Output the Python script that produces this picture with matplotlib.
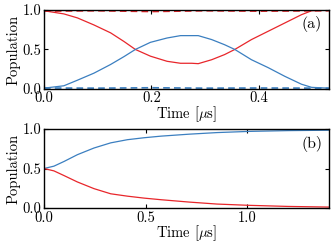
import matplotlib
matplotlib.use('Agg')
import matplotlib.pyplot as plt
import numpy as np

plt.rcParams['font.family'] = 'serif'
plt.rcParams['font.serif'] = ['cmr10', 'DejaVu Serif']
plt.rcParams['mathtext.fontset'] = 'cm'
plt.rcParams['axes.formatter.use_mathtext'] = True
plt.rcParams['font.size'] = 10.5

RED = '#e8262b'
BLUE = '#3b7fc0'

# panel (a): Rabi-like oscillation
tA = [0, 0.037, 0.062, 0.093, 0.124, 0.149, 0.170, 0.198, 0.229, 0.254, 0.275,
      0.287, 0.312, 0.336, 0.355, 0.386, 0.417, 0.448, 0.479, 0.498, 0.53]
redA = [0.99, 0.95, 0.90, 0.81, 0.71, 0.60, 0.50, 0.415, 0.35, 0.325, 0.325,
        0.32, 0.37, 0.435, 0.50, 0.625, 0.73, 0.835, 0.94, 0.99, 1.0]
blueA = [0.01, 0.04, 0.11, 0.20, 0.31, 0.41, 0.50, 0.59, 0.645, 0.675, 0.675,
         0.675, 0.625, 0.56, 0.50, 0.37, 0.27, 0.16, 0.06, 0.02, 0.01]

tA_dash = [0, 0.1, 0.2, 0.3, 0.4, 0.53]
redA_dash = [0.985, 0.99, 0.98, 0.99, 0.985, 0.99]
blueA_dash = [0.012, 0.01, 0.015, 0.01, 0.012, 0.01]

# panel (b): relaxation to steady state
tB = [0, 0.049, 0.099, 0.164, 0.246, 0.328, 0.41, 0.493, 0.575, 0.714, 0.85, 1.007, 1.2, 1.4]
blueB = [0.5, 0.53, 0.59, 0.675, 0.76, 0.825, 0.865, 0.89, 0.91, 0.935, 0.955, 0.97, 0.98, 0.985]
redB = [0.5, 0.47, 0.41, 0.33, 0.245, 0.18, 0.15, 0.125, 0.105, 0.075, 0.05, 0.034, 0.02, 0.012]

fig = plt.figure(figsize=(3.32, 2.43), dpi=100)
axA = fig.add_axes([0.1325, 0.634, 0.858, 0.325])
axB = fig.add_axes([0.1325, 0.144, 0.858, 0.325])

axA.plot(tA, redA, color=RED, lw=0.9)
axA.plot(tA, blueA, color=BLUE, lw=0.9)
axA.plot(tA_dash, redA_dash, color=RED, lw=1.2, ls=(0, (4, 2.5)))
axA.plot(tA_dash, blueA_dash, color=BLUE, lw=1.2, ls=(0, (4, 2.5)))
axA.set_xlim(0, 0.53)
axA.set_xticks([0.0, 0.2, 0.4])
axA.text(0.94, 0.82, '(a)', transform=axA.transAxes, ha='center', va='center', fontsize=11.5)

axB.plot(tB, blueB, color=BLUE, lw=0.9)
axB.plot(tB, redB, color=RED, lw=0.9)
axB.set_xlim(0, 1.4)
axB.set_xticks([0.0, 0.5, 1.0])
axB.text(0.94, 0.81, '(b)', transform=axB.transAxes, ha='center', va='center', fontsize=11.5)

for ax in (axA, axB):
    ax.set_ylim(0, 1)
    ax.set_yticks([0.0, 0.5, 1.0])
    ax.xaxis.set_major_formatter(matplotlib.ticker.FormatStrFormatter('%.1f'))
    ax.yaxis.set_major_formatter(matplotlib.ticker.FormatStrFormatter('%.1f'))
    ax.tick_params(direction='in', top=True, right=True, length=3, width=0.8, pad=2)
    ax.set_xlabel(r'Time [$\mu$s]', labelpad=-1)
    ax.set_ylabel('Population', labelpad=1)
    for s in ax.spines.values():
        s.set_linewidth(1.0)

fig.savefig('out.png', dpi=100)
